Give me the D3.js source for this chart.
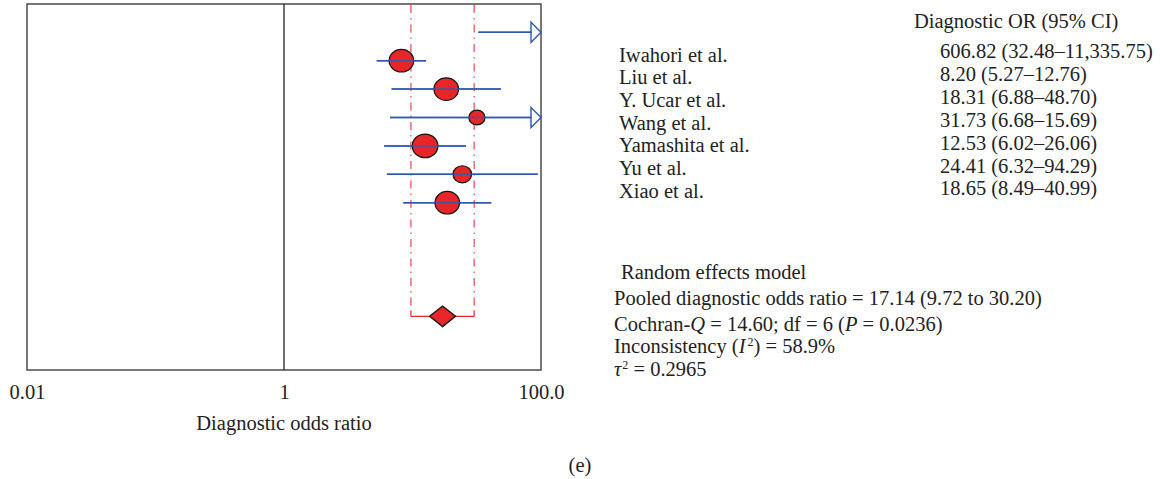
<!DOCTYPE html>
<html><head><meta charset="utf-8">
<script src="https://cdn.jsdelivr.net/npm/d3@7"></script>
<style>
html,body{margin:0;padding:0;background:#fff;}
svg text{font-family:"Liberation Serif","DejaVu Serif",serif;fill:#222;}
</style></head>
<body><svg id="chart" width="1160" height="479"></svg>
<script>
// ---- data ----
const studies = ["Iwahori et al.", "Liu et al.", "Y. Ucar et al.", "Wang et al.", "Yamashita et al.", "Yu et al.", "Xiao et al."];
const orValues = [606.82, 8.20, 18.31, 31.73, 12.53, 24.41, 18.65];
const ciLow = [32.48, 5.27, 6.88, 6.68, 6.02, 6.32, 8.49];
const ciHigh = [11335.75, 12.76, 48.70, 156.90, 26.06, 94.29, 40.99];
const ciLabels = ["606.82 (32.48–11,335.75)", "8.20 (5.27–12.76)", "18.31 (6.88–48.70)", "31.73 (6.68–15.69)", "12.53 (6.02–26.06)", "24.41 (6.32–94.29)", "18.65 (8.49–40.99)"];
const weights = [3.5, 17.5, 17.5, 7.5, 19, 10, 17.5];
const pooledOR = 17.14, pooledLow = 9.72, pooledHigh = 30.20;
const tickValues = [0.01, 1, 100];
const tickLabels = ["0.01", "1", "100.0"];
const axisTitle = "Diagnostic odds ratio";
const columnHeader = "Diagnostic OR (95% CI)";
const modelTitle = "Random effects model";
const panelLabel = "(e)";

// ---- layout ----
const svg = d3.select("#chart");
const box = {left: 27, right: 541, top: 4, bottom: 370};
const x = d3.scaleLog().domain([0.01, 100]).range([box.left, box.right]);
const y = d3.scaleLinear().domain([0, 10]).range([32.3, 316.3]);
const r = d3.scaleSqrt().domain([0, 17.5]).range([0, 12.3]);
const blue = "#2d5bb0", red = "#e8262a", dashRed = "#e8575c";
const fs = 20.5;

// box
svg.append("rect").attr("x", box.left).attr("y", box.top)
  .attr("width", box.right - box.left).attr("height", box.bottom - box.top)
  .attr("fill", "none").attr("stroke", "#555").attr("stroke-width", 1.6);
// line of no effect
svg.append("line").attr("x1", x(1)).attr("x2", x(1)).attr("y1", box.top).attr("y2", box.bottom)
  .attr("stroke", "#222").attr("stroke-width", 1.3);

// pooled CI dashed verticals
[pooledLow, pooledHigh].forEach(v => {
  svg.append("line").attr("x1", x(v)).attr("x2", x(v)).attr("y1", box.top + 1).attr("y2", y(10) - 6)
    .attr("stroke", dashRed).attr("stroke-width", 1.3).attr("stroke-dasharray", "8,5,1.5,5");
  svg.append("line").attr("x1", x(v)).attr("x2", x(v)).attr("y1", y(10) - 6).attr("y2", y(10))
    .attr("stroke", red).attr("stroke-width", 1.2);
});
svg.append("line").attr("x1", x(pooledLow)).attr("x2", x(pooledHigh)).attr("y1", y(10)).attr("y2", y(10))
  .attr("stroke", red).attr("stroke-width", 1.3);

// study CI lines
const rows = studies.map((s, i) => ({s, i, or: orValues[i], lo: ciLow[i], hi: ciHigh[i], w: weights[i]}));
svg.selectAll("line.ci").data(rows).join("line").attr("class", "ci")
  .attr("x1", d => x(d.lo)).attr("x2", d => d.hi > 100 ? box.right - 9 : x(d.hi))
  .attr("y1", d => y(d.i)).attr("y2", d => y(d.i))
  .attr("stroke", blue).attr("stroke-width", 1.5);
// arrows for truncated CIs
svg.selectAll("path.arrow").data(rows.filter(d => d.hi > 100)).join("path").attr("class", "arrow")
  .attr("d", d => `M${box.right - 10},${y(d.i) - 10} L${box.right},${y(d.i)} L${box.right - 10},${y(d.i) + 10} Z`)
  .attr("fill", "#fff").attr("stroke", blue).attr("stroke-width", 1.4);
// point estimates
svg.selectAll("ellipse.pt").data(rows.filter(d => d.or <= 100)).join("ellipse").attr("class", "pt")
  .attr("cx", d => x(d.or)).attr("cy", d => y(d.i))
  .attr("rx", d => r(d.w)).attr("ry", d => r(d.w) * 0.92)
  .attr("fill", red).attr("stroke", "#111").attr("stroke-width", 1.2);
// CI line visible through the marker
svg.selectAll("line.ci2").data(rows).join("line").attr("class", "ci2")
  .attr("x1", d => x(d.lo)).attr("x2", d => d.hi > 100 ? box.right - 9 : x(d.hi))
  .attr("y1", d => y(d.i)).attr("y2", d => y(d.i))
  .attr("stroke", blue).attr("stroke-width", 1.5).attr("stroke-opacity", 0.85);

// pooled diamond
const dx = 13, dy = 10.3, cx = x(pooledOR), cy = y(10);
svg.append("path").attr("d", `M${cx - dx},${cy} L${cx},${cy - dy} L${cx + dx},${cy} L${cx},${cy + dy} Z`)
  .attr("fill", red).attr("stroke", "#111").attr("stroke-width", 1.3);

// axis
const axis = d3.axisBottom(x).tickValues(tickValues).tickFormat((d, i) => tickLabels[i]).tickSize(0).tickPadding(14);
const ag = svg.append("g").attr("transform", `translate(0,${box.bottom})`).call(axis);
ag.select(".domain").remove();
ag.selectAll("text").attr("font-size", fs).attr("font-family", "Liberation Serif").attr("fill", "#222");
svg.append("text").attr("x", x(1)).attr("y", 430).attr("text-anchor", "middle").attr("font-size", fs).text(axisTitle);
svg.append("text").attr("x", 580).attr("y", 472).attr("text-anchor", "middle").attr("font-size", fs).text(panelLabel);

// right-side table
svg.append("text").attr("x", 914).attr("y", 28).attr("font-size", fs).text(columnHeader);
svg.selectAll("text.lab").data(studies).join("text").attr("class", "lab")
  .attr("x", 619).attr("y", (d, i) => 61.5 + i * 22.7).attr("font-size", fs).text(d => d);
svg.selectAll("text.val").data(ciLabels).join("text").attr("class", "val")
  .attr("x", 940).attr("y", (d, i) => 58 + i * 22.9).attr("font-size", fs).text(d => d);

// model summary
const summary = svg.append("g").attr("font-size", fs);
summary.append("text").attr("x", 621).attr("y", 279).text(modelTitle);
const t1 = summary.append("text").attr("x", 614).attr("y", 305);
t1.text(`Pooled diagnostic odds ratio = ${pooledOR.toFixed(2)} (${pooledLow.toFixed(2)} to ${pooledHigh.toFixed(2)})`);
const t2 = summary.append("text").attr("x", 614).attr("y", 331);
t2.append("tspan").text("Cochran-");
t2.append("tspan").attr("font-style", "italic").text("Q");
t2.append("tspan").text(" = 14.60; df = 6 (");
t2.append("tspan").attr("font-style", "italic").text("P");
t2.append("tspan").text(" = 0.0236)");
const t3 = summary.append("text").attr("x", 614).attr("y", 353);
t3.append("tspan").text("Inconsistency (");
t3.append("tspan").attr("font-style", "italic").text("I");
t3.append("tspan").attr("font-size", 12).attr("dy", -7).attr("dx", 2).text("2");
t3.append("tspan").attr("dy", 7).text(") = 58.9%");
const t4 = summary.append("text").attr("x", 614).attr("y", 376);
t4.append("tspan").attr("font-style", "italic").text("τ");
t4.append("tspan").attr("font-size", 12).attr("dy", -7).attr("dx", 1).text("2");
t4.append("tspan").attr("dy", 7).text(" = 0.2965");
</script></body></html>
